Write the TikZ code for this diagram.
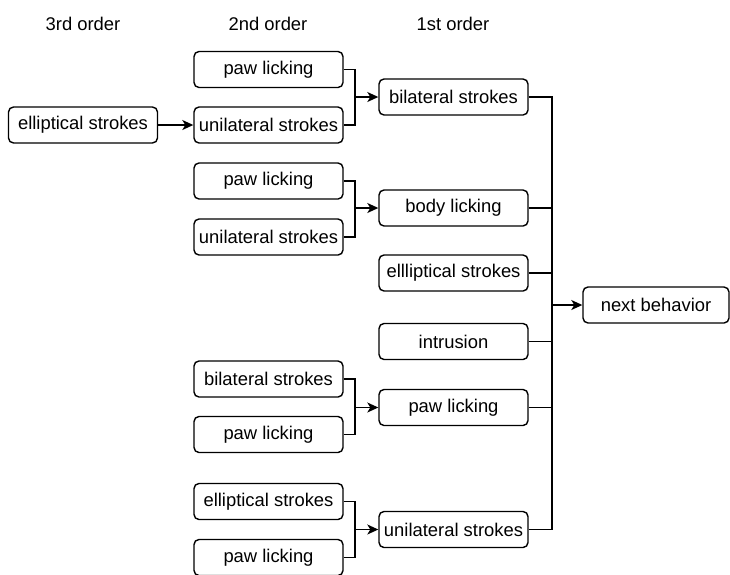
\documentclass[tikz,border=0pt]{standalone}
\usepackage{fontspec}
\setmainfont{Liberation Sans}
\usetikzlibrary{arrows.meta}
\begin{document}
\begin{tikzpicture}[x=1pt,y=-1pt,
  box/.style={draw, rounded corners=5pt, line width=1.4pt, minimum width=149pt, minimum height=36pt, inner sep=0pt, font=\fontsize{18.4}{21}\selectfont},
  hdr/.style={inner sep=0pt, font=\fontsize{18.4}{21}\selectfont},
  wire/.style={line width=1.4pt},
  arr/.style={line width=1.4pt, -{Stealth[length=11pt,width=10pt,inset=3pt]}}]
\useasboundingbox (0,0) rectangle (730,574);
% headers
\node[hdr] (h3) at (83,24) {3rd order};
\node[hdr] (h2) at (268,24) {2nd order};
\node[hdr] (h1) at (453,24) {1st order};
% 3rd order
\node[box] (es3) at (83,125) {elliptical strokes};
% 2nd order
\node[box] (p1) at (268.5,69.5) {paw licking};
\node[box] (u1) at (268.5,125) {unilateral strokes};
\node[box] (p2) at (268.5,181) {paw licking};
\node[box] (u2) at (268.5,237) {unilateral strokes};
\node[box] (b3) at (268.5,379) {bilateral strokes};
\node[box] (p3) at (268.5,434.5) {paw licking};
\node[box] (e4) at (268.5,501.5) {elliptical strokes};
\node[box] (p4) at (268.5,557.5) {paw licking};
% 1st order
\node[box] (bs) at (453.5,97) {bilateral strokes};
\node[box] (bl) at (453.5,208) {body licking};
\node[box] (ell) at (453.5,273) {ellliptical strokes};
\node[box] (intr) at (453.5,341.5) {intrusion};
\node[box] (pl) at (453.5,407.5) {paw licking};
\node[box] (us) at (453.5,529.5) {unilateral strokes};
% next
\node[box, minimum width=146pt] (nb) at (656,305) {next behavior};
% junctions
\coordinate (j1) at (355,97);
\coordinate (j2) at (355,208);
\coordinate (j3) at (355,407.5);
\coordinate (j4) at (355,529.5);
\coordinate (bus) at (552,305);
% 3rd -> 2nd
\draw[arr] (es3.east) -- (u1.west);
% 2nd -> 1st
\draw[wire] (p1.east) -| (j1) |- (u1.east);
\draw[arr] (j1) -- (bs.west);
\draw[wire] (p2.east) -| (j2) |- (u2.east);
\draw[arr] (j2) -- (bl.west);
\draw[wire] (b3.east) -| (j3) |- (p3.east);
\draw[arr] (j3) -- (pl.west);
\draw[wire] (e4.east) -| (j4) |- (p4.east);
\draw[arr] (j4) -- (us.west);
% 1st -> next
\draw[wire] (bs.east) -| (bus);
\draw[wire] (bl.east) -| (bus);
\draw[wire] (ell.east) -| (bus);
\draw[wire] (intr.east) -| (bus);
\draw[wire] (pl.east) -| (bus);
\draw[wire] (us.east) -| (bus);
\draw[arr] (bus) -- (nb.west);
\end{tikzpicture}
\end{document}
